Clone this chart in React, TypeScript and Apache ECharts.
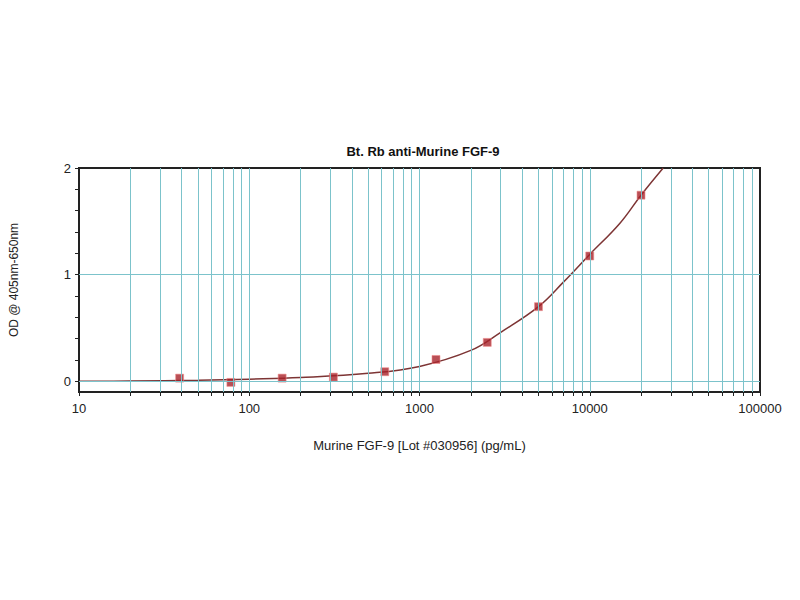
import React, { useEffect, useRef } from "react";
import * as echarts from "echarts";

// standards: concentration (pg/mL) and OD readings
const concentrations = [39, 78, 156, 312, 625, 1250, 2500, 5000, 10000, 20000];
const odValues = [0.03, -0.01, 0.03, 0.04, 0.09, 0.205, 0.365, 0.7, 1.175, 1.745];

// fitted curve
const curveX = [10, 20, 50, 100, 200, 500, 1000, 2000, 3000, 5000, 7000, 10000, 15000, 20000, 27000];
const curveY = [0.0, 0.003, 0.01, 0.02, 0.035, 0.075, 0.14, 0.29, 0.46, 0.7, 0.93, 1.19, 1.48, 1.745, 2.0];

// vertical grid lines at every log minor step
const gridX = [
  20, 30, 40, 50, 60, 70, 80, 90,
  100, 200, 300, 400, 500, 600, 700, 800, 900,
  1000, 2000, 3000, 4000, 5000, 6000, 7000, 8000, 9000,
  10000, 20000, 30000, 40000, 50000, 60000, 70000, 80000, 90000,
];
const xLabels = [10, 100, 1000, 10000, 100000];
const yLabels = [0, 1, 2];
const yTicks = [0, 0.2, 0.4, 0.6, 0.8, 1, 1.2, 1.4, 1.6, 1.8, 2];
const gridY = [0, 1];

export default function App() {
  const elRef = useRef<HTMLDivElement | null>(null);

  useEffect(() => {
    if (!elRef.current) return;
    const chart = echarts.init(elRef.current, null, { renderer: "svg" });
    const font = "Liberation Sans, Arial, sans-serif";
    const teal = "#7cc3cb";

    chart.setOption({
      animation: false,
      backgroundColor: "#ffffff",
      title: {
        text: "Bt. Rb anti-Murine FGF-9",
        left: 418,
        textAlign: "center",
        top: 140,
        textStyle: { fontFamily: font, fontSize: 13, fontWeight: "bold", color: "#111" },
      },
      grid: {
        left: 77,
        right: 40,
        top: 168,
        height: 224,
        show: true,
        borderColor: "#222",
        borderWidth: 2,
        backgroundColor: "transparent",
      },
      xAxis: {
        type: "log",
        logBase: 10,
        min: 10,
        max: 100000,
        name: "Murine FGF-9 [Lot #030956] (pg/mL)",
        nameLocation: "middle",
        nameGap: 47,
        nameTextStyle: { fontFamily: font, fontSize: 13, color: "#222" },
        axisLine: { show: true, onZero: false, lineStyle: { color: "#222", width: 2 } },
        axisTick: {
          show: true,
          length: 4,
          customValues: [10, ...gridX, 100000],
          lineStyle: { color: "#222" },
        },
        axisLabel: {
          fontFamily: font,
          fontSize: 13,
          color: "#222",
          margin: 10,
          customValues: xLabels,
          formatter: (v: number) => String(Math.round(v)),
        },
        splitLine: { show: false },
      },
      yAxis: {
        type: "value",
        min: -0.1,
        max: 2,
        interval: 0.1,
        name: "OD @ 405nm-650nm",
        nameLocation: "middle",
        nameRotate: 90,
        nameGap: 59,
        nameTextStyle: { fontFamily: font, fontSize: 12, color: "#222" },
        axisLine: { show: true, lineStyle: { color: "#222", width: 2 } },
        axisTick: { show: true, length: 4, customValues: yTicks, lineStyle: { color: "#222" } },
        axisLabel: {
          fontFamily: font,
          fontSize: 13,
          color: "#222",
          margin: 8,
          customValues: yLabels,
          formatter: (v: number) => String(Math.round(v)),
        },
        splitLine: { show: false },
      },
      series: [
        {
          type: "line",
          data: [],
          silent: true,
          z: 1,
          markLine: {
            silent: true,
            symbol: "none",
            label: { show: false },
            lineStyle: { color: teal, width: 1, type: "solid" },
            data: [
              ...gridX.map((x) => ({ xAxis: x })),
              ...gridY.map((y) => ({ yAxis: y })),
            ],
          },
        },
        {
          type: "line",
          data: curveX.map((x, i) => [x, curveY[i]]),
          smooth: 0.4,
          showSymbol: false,
          z: 3,
          lineStyle: { color: "#7d3434", width: 1.5 },
        },
        {
          type: "scatter",
          data: concentrations.map((x, i) => [x, odValues[i]]),
          symbol: "rect",
          symbolSize: 8,
          z: 4,
          itemStyle: {
            color: "#a8232a",
            borderColor: "rgba(240,140,140,0.7)",
            borderWidth: 1,
          },
        },
      ],
    });

    return () => chart.dispose();
  }, []);

  return <div ref={elRef} style={{ width: 800, height: 600, margin: -8 }} />;
}
